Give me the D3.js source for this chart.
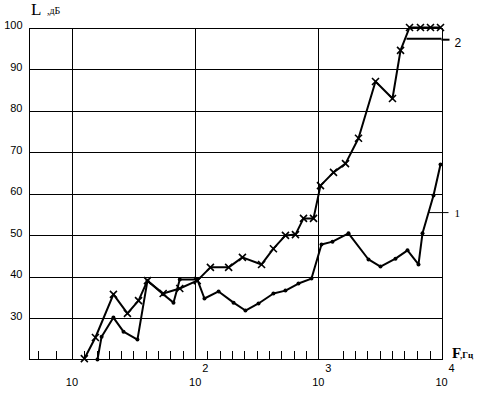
<!DOCTYPE html>
<html>
<head>
<meta charset="utf-8">
<script src="https://cdn.jsdelivr.net/npm/d3@7"></script>
<style>
  body { margin: 0; background: #fff; }
  svg { display: block; }
</style>
</head>
<body>
<div id="chart"></div>
<script>
// Curve 1 (dots): frequency, Hz / level, dB
const freq1 = [16.1, 17.4, 21.7, 26.2, 34.0, 41, 55, 66.7, 75, 104, 119, 155, 205, 256, 327,
  432, 541, 690, 880, 1061, 1303, 1758, 2555, 3196, 4230, 5297, 6506, 7010, 8610, 9815];
const level1 = [20, 25.5, 30.1, 26.7, 24.8, 39.0, 35.7, 33.7, 39.3, 39.3, 34.7, 36.4, 33.7, 31.8, 33.5,
  35.9, 36.6, 38.3, 39.5, 47.7, 48.4, 50.4, 44.1, 42.4, 44.3, 46.3, 42.9, 50.4, 59.5, 67.0];

// Curve 2 (crosses)
const freq2 = [12.6, 15.5, 21.7, 28.2, 34.7, 41, 55, 75, 104, 133, 187, 242, 346, 432, 541,
  652, 758, 914, 1041, 1328, 1662, 2119, 2912, 4000, 4650, 5500, 6750, 8140, 9815];
const level2 = [20.2, 25.3, 35.7, 31.1, 34.2, 39.0, 35.9, 37.1, 39.0, 42.2, 42.2, 44.6, 42.9, 46.7, 49.9,
  50.1, 54.0, 54.0, 61.9, 65.1, 67.2, 73.3, 87.0, 82.9, 94.5, 100, 100, 100, 100];

// plain end segment of curve 2 (no markers)
const freq2Tail = [5200, 10000];
const level2Tail = [97.3, 97.3];

// axis ticks
const levelTicks = [30, 40, 50, 60, 70, 80, 90, 100];
const decadeTicks = [10, 100, 1000, 10000];
const decadeExp = ['', '2', '3', '4'];
const minorTicks = [5.3, 7.4, 12.5, 16, 20, 25, 31.5, 40, 50, 63, 80,
  125, 160, 200, 250, 315, 400, 500, 630, 800, 1600, 2000, 2500, 3150, 4000, 5000, 6300, 8000];

// curve label anchors: [freq, level]
const label1At = [7830, 55.4];
const label2At = [10000, 97.3];

const W = 484, H = 396;
const margin = { top: 27, right: 43, bottom: 37, left: 29 };
const width = W - margin.left - margin.right;
const height = H - margin.top - margin.bottom;

const svg = d3.select('#chart').append('svg').attr('width', W).attr('height', H);
const g = svg.append('g').attr('transform', `translate(${margin.left + 0.5},${margin.top + 0.5})`);

const x = d3.scaleLog().domain([4.52, 10000]).range([0, width]);
const y = d3.scaleLinear().domain([20, 100]).range([height, 0]);

const sans = '"Liberation Sans", Arial, sans-serif';
const serif = '"Liberation Serif", "Times New Roman", serif';

// horizontal grid
g.append('g')
  .call(d3.axisLeft(y).tickValues(levelTicks).tickSize(-width).tickFormat(''))
  .call((s) => s.select('.domain').remove())
  .call((s) => s.selectAll('.tick line').attr('stroke', '#000').attr('shape-rendering', 'crispEdges'));

// vertical grid (decades)
g.append('g')
  .attr('transform', `translate(0,${height})`)
  .call(d3.axisBottom(x).tickValues(decadeTicks).tickSize(-height).tickFormat(''))
  .call((s) => s.select('.domain').remove())
  .call((s) => s.selectAll('.tick line').attr('stroke', '#000').attr('shape-rendering', 'crispEdges'));

// minor ticks on the bottom axis, pointing up
g.append('g')
  .attr('transform', `translate(0,${height})`)
  .call(d3.axisBottom(x).tickValues(minorTicks).tickSize(-9).tickFormat(''))
  .call((s) => s.select('.domain').remove())
  .call((s) => s.selectAll('.tick line').attr('stroke', '#000').attr('shape-rendering', 'crispEdges'));

// frame: left and bottom
g.append('line').attr('x1', 0).attr('x2', 0).attr('y1', 0).attr('y2', height)
  .attr('stroke', '#000').attr('shape-rendering', 'crispEdges');
g.append('line').attr('x1', 0).attr('x2', width).attr('y1', height).attr('y2', height)
  .attr('stroke', '#000').attr('shape-rendering', 'crispEdges');

// y tick labels
g.selectAll('.ylab')
  .data(levelTicks)
  .enter()
  .append('text')
  .attr('x', -7)
  .attr('y', (d) => y(d) - 1)
  .attr('text-anchor', 'end')
  .attr('dominant-baseline', 'middle')
  .style('font', `11px ${sans}`)
  .text((d) => d);

// x tick labels: 10, 10^2, 10^3, 10^4
const xl = g.selectAll('.xlab').data(decadeTicks).enter().append('g')
  .attr('transform', (d) => `translate(${x(d)},${height})`);
xl.append('text').attr('x', 0).attr('y', 26).attr('text-anchor', 'middle')
  .style('font', `11px ${sans}`).text('10');
xl.append('text').attr('x', 7).attr('y', 12).attr('text-anchor', 'start')
  .style('font', `11px ${sans}`).text((d, i) => decadeExp[i]);

// axis titles
svg.append('text').attr('x', 31).attr('y', 15)
  .style('font', `17px ${serif}`).text('L');
svg.append('text').attr('x', 47).attr('y', 14)
  .style('font', `10px ${serif}`).text(',дБ');
svg.append('text').attr('x', 452).attr('y', 358)
  .style('font', `bold 15px ${serif}`).text('F');
svg.append('text').attr('x', 460).attr('y', 358)
  .style('font', `bold 9px ${serif}`).text(',Гц');

const line = d3.line().x((d) => x(d[0])).y((d) => y(d[1]));
const pts1 = freq1.map((f, i) => [f, level1[i]]);
const pts2 = freq2.map((f, i) => [f, level2[i]]);
const tail2 = freq2Tail.map((f, i) => [f, level2Tail[i]]);

// curve 2 line + crosses
g.append('path').datum(pts2).attr('d', line)
  .attr('fill', 'none').attr('stroke', '#000').attr('stroke-width', 2).attr('stroke-linejoin', 'round');
g.append('path').datum(tail2).attr('d', line)
  .attr('fill', 'none').attr('stroke', '#000').attr('stroke-width', 2);
g.selectAll('.cross')
  .data(pts2)
  .enter()
  .append('path')
  .attr('class', 'cross')
  .attr('transform', (d) => `translate(${x(d[0])},${y(d[1])})`)
  .attr('d', 'M-3.5,-3.5L3.5,3.5M-3.5,3.5L3.5,-3.5')
  .attr('stroke', '#000')
  .attr('stroke-width', 1.6);

// curve 1 line + dots
g.append('path').datum(pts1).attr('d', line)
  .attr('fill', 'none').attr('stroke', '#000').attr('stroke-width', 2).attr('stroke-linejoin', 'round');
g.selectAll('.dot')
  .data(pts1)
  .enter()
  .append('circle')
  .attr('class', 'dot')
  .attr('cx', (d) => x(d[0]))
  .attr('cy', (d) => y(d[1]))
  .attr('r', 2)
  .attr('fill', '#000');

// curve labels with leader lines
g.append('line')
  .attr('x1', x(label2At[0])).attr('x2', x(label2At[0]) + 8)
  .attr('y1', y(label2At[1]) + 1).attr('y2', y(label2At[1]) + 1)
  .attr('stroke', '#000').attr('stroke-width', 2);
g.append('text')
  .attr('x', x(label2At[0]) + 13).attr('y', y(label2At[1]) + 8)
  .style('font', `12px ${sans}`).text('2');

g.append('line')
  .attr('x1', x(label1At[0])).attr('x2', x(10000) + 7)
  .attr('y1', y(label1At[1])).attr('y2', y(label1At[1]))
  .attr('stroke', '#000').attr('stroke-width', 1);
g.append('text')
  .attr('x', x(10000) + 13).attr('y', y(label1At[1]) + 4)
  .style('font', `11px ${serif}`).text('1');
</script>
</body>
</html>
